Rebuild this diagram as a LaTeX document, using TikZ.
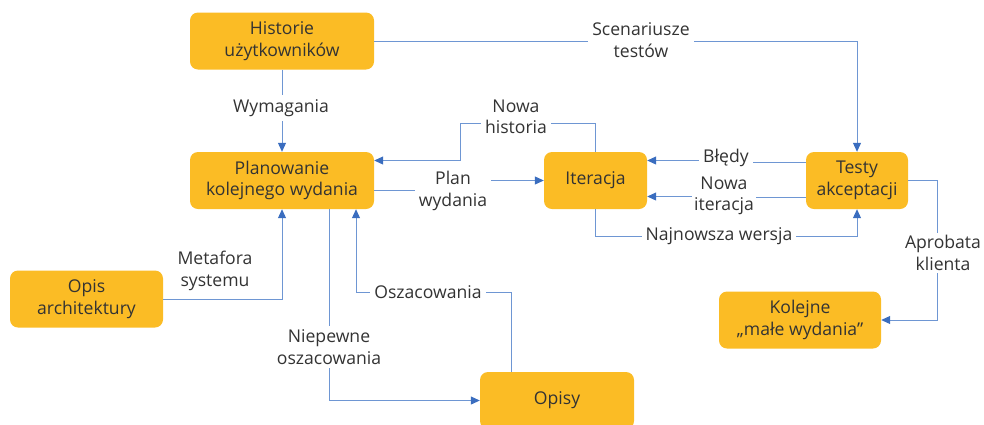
\documentclass[tikz,border=0pt]{standalone}
\usepackage{fontspec}
\setmainfont{Open Sans}
\usetikzlibrary{arrows.meta}
\definecolor{boxfill}{HTML}{FBBC25}
\definecolor{wirec}{HTML}{6E96D3}
\definecolor{tipc}{HTML}{3A6DBF}
\definecolor{ink}{HTML}{333333}
\begin{document}
\begin{tikzpicture}[x=1pt,y=-1pt,
  box/.style={fill=boxfill, rounded corners=8pt, text=ink, align=center, inner sep=0pt,
    font=\fontsize{17.6}{21.5}\selectfont},
  lbl/.style={fill=white, text=ink, align=center, inner sep=4pt,
    font=\fontsize{17.6}{21.5}\selectfont},
  wire/.style={draw=wirec, line width=1pt},
  arr/.style={wire, -{Triangle[length=9pt,width=8pt,color=tipc]}}]
\useasboundingbox (0,0) rectangle (984,424);

% process boxes
\node[box, minimum width=184pt, minimum height=57pt] (hist) at (282,41) {Historie\\użytkowników};
\node[box, minimum width=184pt, minimum height=57pt] (plan) at (282,180.5) {Planowanie\\kolejnego wydania};
\node[box, minimum width=103pt, minimum height=57pt] (iter) at (595.5,180.5) {Iteracja};
\node[box, minimum width=102pt, minimum height=57pt] (test) at (857,180.5) {Testy\\akceptacji};
\node[box, minimum width=153pt, minimum height=57pt] (opis) at (86.5,299) {Opis\\architektury};
\node[box, minimum width=162pt, minimum height=57pt] (kol) at (800,320) {Kolejne\\„małe wydania”};
\node[box, minimum width=154pt, minimum height=57pt] (opisy) at (557,400.5) {Opisy};

% bend points
\coordinate (nhc) at (460,123);
\coordinate (pwc) at (460,186);
\coordinate (blc) at (726,161);
\coordinate (nic) at (724,196);
\coordinate (nwc) at (720,236);
\coordinate (apc) at (937,253);
\coordinate (osc) at (430,292);

% connectors
\draw[arr] (hist.east) -| (test.north);
\draw[arr] (hist.south) -- (plan.north);
\draw[arr] (iter.north) |- (nhc) |- ([yshift=20pt]plan.east);
\draw[arr] ([yshift=-10pt]plan.east) -| (pwc) |- (iter.west);
\draw[arr] ([yshift=18pt]test.west) -| (blc) |- ([yshift=20pt]iter.east);
\draw[arr] ([yshift=-17pt]test.west) -| (nic) |- ([yshift=-16pt]iter.east);
\draw[arr] (iter.south) |- (nwc) -| (test.south);
\draw[arr] (test.east) -| (apc) |- (kol.east);
\draw[arr] (opis.east) -| (plan.south);
\draw[arr] ([xshift=47pt]plan.south) |- (opisy.west);
\draw[arr] ([xshift=-46pt]opisy.north) |- (osc) -| ([xshift=74pt]plan.south);

% connector labels
\node[lbl] (lscen) at (641,40) {Scenariusze\\testów};
\node[lbl] (lwym) at (281,108) {Wymagania};
\node[lbl] (lnh) at (516,117) {Nowa\\historia};
\node[lbl] (lpw) at (453,191) {Plan\\wydania};
\node[lbl] (lbl) at (726,158) {Błędy};
\node[lbl, inner sep=2pt] (lni) at (724,196) {Nowa\\iteracja};
\node[lbl] (lnw) at (719,236) {Najnowsza wersja};
\node[lbl, inner sep=2pt] (lap) at (943,253) {Aprobata\\klienta};
\node[lbl, fill=none] (lmet) at (215,271) {Metafora\\systemu};
\node[lbl] (losz) at (428,292) {Oszacowania};
\node[lbl] (lnie) at (329,347) {Niepewne\\oszacowania};
\end{tikzpicture}
\end{document}
